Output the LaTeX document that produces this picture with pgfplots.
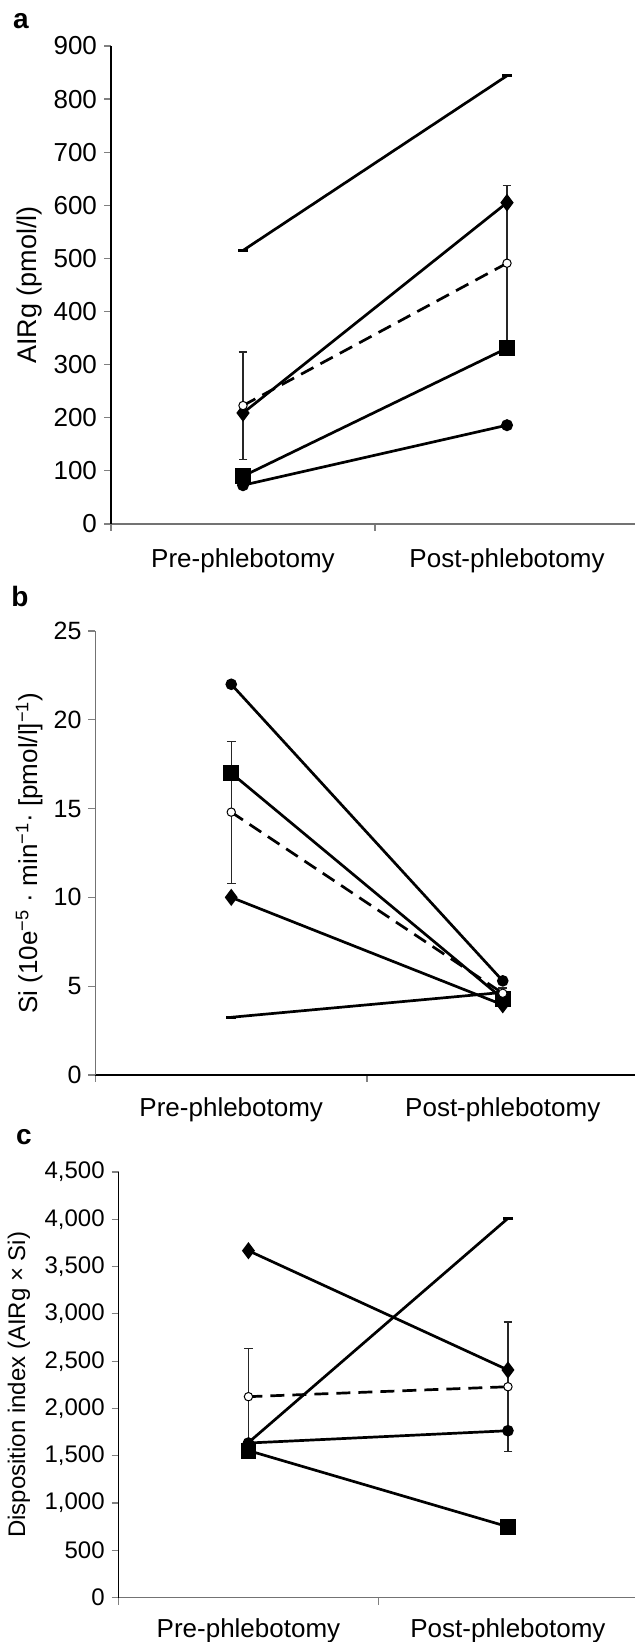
\documentclass[border=0pt]{standalone}
\usepackage{pgfplots}
\pgfplotsset{compat=1.18}
\usepackage{fontspec}
\setmainfont{Liberation Sans}

\pgfplotsset{
  panel/.style={
    scale only axis,
    anchor=south west,
    xmin=0, xmax=2,
    axis lines*=left,
    axis line style={-, line width=0.6pt},
    tick align=outside,
    major tick length=3.5pt,
    tick style={line width=0.6pt},
    xtick={0,1}, xticklabels={},
    extra x ticks={0.5,1.5},
    extra x tick labels={Pre-phlebotomy,Post-phlebotomy},
    xticklabel style={font=\fontsize{13}{15}\selectfont},
    /pgf/number format/assume math mode=true,
    /pgf/number format/1000 sep={,},
    scaled y ticks=false,
    clip=false,
  },
  subj/.style={black, line width=1.35pt, solid, mark options={solid}},
  meanline/.style={black, line width=1.35pt, dash pattern=on 7pt off 4pt,
    mark=*, mark size=2.1pt,
    mark options={solid, fill=white, draw=black, line width=0.5pt},
    error bars/.cd, y dir=both, y explicit,
    error bar style={line width=0.6pt, black!85, solid},
    error mark options={rotate=90, mark size=2.2pt, line width=0.6pt, black!85}},
}

\begin{document}
\begin{tikzpicture}
\useasboundingbox (0,0) rectangle (317pt,821pt);

% ---------------- panel a ----------------
\begin{axis}[panel,
  at={(55.5pt,559pt)}, width=264pt, height=239pt,
  ymin=0, ymax=900, ytick={0,100,...,900},
  yticklabel style={font=\fontsize{13}{15}\selectfont},
  x axis line style={black!55}, y axis line style={black},
  extra x tick style={major tick length=0pt, xticklabel style={yshift=-8.7pt}},
  ylabel={AIRg (pmol/l)},
  every axis y label/.style={at={(axis description cs:-0.1545,0.5)}, rotate=90, anchor=center, font=\fontsize{13.5}{15}\selectfont},
]
\addplot[subj, mark=-, mark size=2.6pt, mark options={line width=1.6pt}] coordinates {(0.5,515) (1.5,844)};
\addplot[subj, mark=diamond*, mark size=3.3pt] coordinates {(0.5,209) (1.5,605)};
\addplot[subj, mark=square*, mark size=3.4pt] coordinates {(0.5,90) (1.5,331)};
\addplot[subj, mark=*, mark size=2.3pt] coordinates {(0.5,73) (1.5,186)};
\addplot[meanline] coordinates {(0.5,223) +- (0,101) (1.5,491) +- (0,146)};
\end{axis}

% ---------------- panel b ----------------
\begin{axis}[panel,
  at={(47.75pt,283.5pt)}, width=271.5pt, height=222pt,
  ymin=0, ymax=25, ytick={0,5,...,25},
  yticklabel style={font=\fontsize{12.5}{15}\selectfont},
  x axis line style={black}, y axis line style={black!55},
  extra x tick style={major tick length=0pt, xticklabel style={yshift=-8pt}},
  ylabel={Si (10e\textsuperscript{−5} · min\textsuperscript{−1}· [pmol/l]\textsuperscript{−1})},
  every axis y label/.style={at={(axis description cs:-0.1223,0.5)}, rotate=90, anchor=center, font=\fontsize{13}{15}\selectfont},
]
\addplot[subj, mark=*, mark size=2.2pt] coordinates {(0.5,22.0) (1.5,5.3)};
\addplot[subj, mark=square*, mark size=3.3pt] coordinates {(0.5,17.0) (1.5,4.3)};
\addplot[subj, mark=diamond*, mark size=3.2pt] coordinates {(0.5,10.0) (1.5,3.95)};
\addplot[subj, mark=-, mark size=2.6pt, mark options={line width=1.6pt}] coordinates {(0.5,3.25) (1.5,4.65)};
\addplot[meanline] coordinates {(0.5,14.8) +- (0,4.0) (1.5,4.6) +- (0,0.3)};
\end{axis}

% ---------------- panel c ----------------
\begin{axis}[panel,
  at={(59.35pt,22.15pt)}, width=259.5pt, height=212.85pt,
  ymin=0, ymax=4500, ytick={0,500,...,4500},
  yticklabel style={font=\fontsize{12}{15}\selectfont},
  x axis line style={black!55}, y axis line style={black},
  extra x tick style={major tick length=0pt, xticklabel style={yshift=-6.7pt}},
  ylabel={Disposition index (AIRg × Si)},
  every axis y label/.style={at={(axis description cs:-0.1923,0.5)}, rotate=90, anchor=center, font=\fontsize{12}{15}\selectfont},
]
\addplot[subj, mark=diamond*, mark size=3.2pt] coordinates {(0.5,3668) (1.5,2407)};
\addplot[subj, mark=-, mark size=2.6pt, mark options={line width=1.6pt}] coordinates {(0.5,1640) (1.5,4010)};
\addplot[subj, mark=square*, mark size=3.3pt] coordinates {(0.5,1555) (1.5,750)};
\addplot[subj, mark=*, mark size=2.2pt] coordinates {(0.5,1635) (1.5,1765)};
\addplot[meanline] coordinates {(0.5,2125) +- (0,511) (1.5,2230) +- (0,684)};
\end{axis}

\node[font=\bfseries\fontsize{14}{16}\selectfont] at (10.5pt,810.5pt) {a};
\node[font=\bfseries\fontsize{14}{16}\selectfont] at (10pt,522.5pt) {b};
\node[font=\bfseries\fontsize{14}{16}\selectfont] at (12pt,252.5pt) {c};
\end{tikzpicture}
\end{document}
